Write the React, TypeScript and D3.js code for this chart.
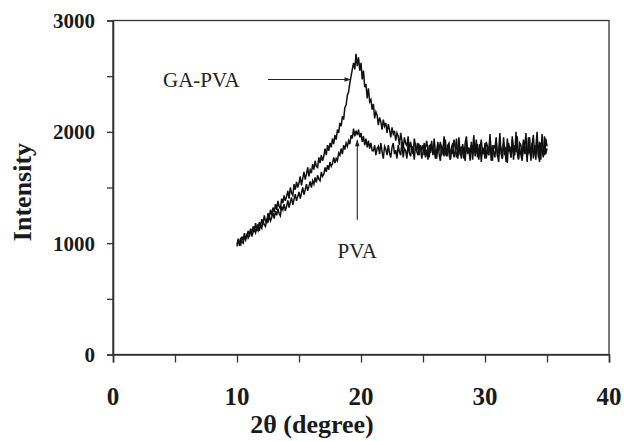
import React, { useEffect, useRef } from "react";
import * as d3 from "d3";

// scan grid: 2θ from 10 to 35 degrees, step 0.1
const scanStart = 10;
const scanStep = 0.1;

// GA-PVA intensity (one row per degree)
const gaPva = [
  970, 1040, 1000, 985, 1060, 1030, 1090, 1040, 1070, 1110,
  1060, 1130, 1095, 1150, 1100, 1180, 1125, 1110, 1190, 1150,
  1215, 1170, 1250, 1200, 1185, 1270, 1235, 1300, 1250, 1320,
  1280, 1350, 1300, 1380, 1330, 1310, 1400, 1360, 1430, 1380,
  1420, 1470, 1400, 1500, 1450, 1430, 1530, 1480, 1550, 1500,
  1540, 1600, 1520, 1580, 1640, 1570, 1620, 1680, 1600, 1660,
  1630, 1710, 1660, 1740, 1690, 1680, 1770, 1720, 1790, 1740,
  1780, 1850, 1790, 1880, 1830, 1900, 1860, 1940, 1890, 1970,
  1930, 2020, 1990, 2080, 2050, 2140, 2110, 2220, 2240, 2330,
  2360, 2440, 2500, 2560, 2620, 2560, 2700, 2590, 2670, 2550,
  2620, 2470, 2550, 2400, 2430, 2300, 2390, 2270, 2290, 2200,
  2250, 2120, 2180, 2150, 2060, 2130, 2090, 2020, 2110, 2050,
  2080, 1990, 2070, 2020, 1950, 2040, 1980, 2010, 1920, 1990,
  1960, 1880, 1990, 1920, 1850, 1950, 1900, 1870, 1960, 1830,
  1910, 1850, 1800, 1940, 1870, 1830, 1900, 1790, 1880, 1840,
  1880, 1790, 1860, 1920, 1830, 1770, 1890, 1855, 1800, 1940,
  1820, 1760, 1870, 1845, 1910, 1790, 1830, 1960, 1810, 1780,
  1880, 1900, 1750, 1840, 1800, 1930, 1860, 1770, 1820, 1950,
  1790, 1870, 1825, 1760, 1900, 1960, 1810, 1850, 1740, 1880,
  1835, 1970, 1780, 1820, 1890, 1750, 1860, 1930, 1800, 1845,
  1760, 1910, 1870, 1790, 1980, 1820, 1740, 1880, 1850, 1950,
  1780, 1830, 1990, 1800, 1760, 1900, 1860, 1730, 1940, 1820,
  1870, 1770, 1960, 1840, 1790, 2000, 1810, 1750, 1900, 1880,
  1760, 1930, 1850, 1990, 1780, 1820, 1950, 1740, 1890, 1970,
  1800, 1860, 2000, 1770, 1910, 1750, 1980, 1830, 1790, 1940,
  1870,
];

// PVA intensity
const pva = [
  990, 1030, 975, 1050, 1010, 1000, 1065, 1030, 1085, 1045,
  1070, 1120, 1060, 1100, 1150, 1095, 1130, 1170, 1110, 1160,
  1135, 1200, 1165, 1150, 1220, 1185, 1250, 1200, 1230, 1275,
  1220, 1290, 1250, 1310, 1265, 1245, 1330, 1300, 1350, 1290,
  1330, 1385, 1320, 1370, 1410, 1345, 1395, 1440, 1380, 1420,
  1460, 1400, 1450, 1500, 1435, 1480, 1530, 1470, 1510, 1555,
  1500, 1560, 1530, 1590, 1545, 1610, 1575, 1560, 1640, 1600,
  1620, 1680, 1640, 1700, 1660, 1730, 1690, 1715, 1770, 1720,
  1760, 1740, 1810, 1790, 1850, 1800, 1880, 1840, 1900, 1870,
  1920, 1890, 1970, 1940, 2030, 1960, 2010, 1970, 2020, 1950,
  1990, 1910, 1960, 1880, 1940, 1860, 1920, 1850, 1900, 1830,
  1830, 1880, 1790, 1850, 1870, 1800, 1900, 1820, 1760, 1870,
  1845, 1790, 1880, 1810, 1770, 1860, 1900, 1800, 1835, 1760,
  1880, 1820, 1790, 1910, 1770, 1850, 1830, 1760, 1890, 1810,
  1780, 1870, 1840, 1750, 1900, 1820, 1790, 1880, 1860, 1760,
  1820, 1900, 1770, 1840, 1750, 1880, 1810, 1920, 1790, 1850,
  1760, 1830, 1910, 1800, 1740, 1870, 1850, 1780, 1930, 1810,
  1790, 1880, 1750, 1860, 1900, 1770, 1820, 1940, 1760, 1850,
  1830, 1760, 1890, 1810, 1740, 1920, 1800, 1860, 1780, 1910,
  1750, 1870, 1820, 1930, 1770, 1840, 1890, 1730, 1860, 1800,
  1900, 1760, 1850, 1790, 1940, 1740, 1880, 1820, 1770, 1920,
  1800, 1730, 1890, 1850, 1760, 1950, 1790, 1860, 1720, 1900,
  1840, 1770, 1930, 1750, 1880, 1820, 1960, 1760, 1850, 1790,
  1740, 1910, 1800, 1870, 1730, 1950, 1820, 1780, 1900, 1760,
  1880, 1750, 1940, 1810, 1730, 1900, 1840, 1770, 1960, 1800,
  1850,
];

const xTicks = [0, 10, 20, 30, 40];
const xMinorTicks = [0, 5, 10, 15, 20, 25, 30, 35, 40];
const yTicks = [0, 1000, 2000, 3000];
const yMinorTicks = [0, 500, 1000, 1500, 2000, 2500, 3000];

// annotation arrows, in data units
const gaLabel = { text: "GA-PVA", tip: [19.2, 2470], tail: [12.5, 2470] };
const pvaLabel = { text: "PVA", tip: [19.7, 1930], tail: [19.7, 1210] };

export default function App() {
  const ref = useRef<SVGSVGElement>(null);

  useEffect(() => {
    const svg = d3.select(ref.current);
    svg.selectAll("*").remove();

    const margin = { top: 20.5, right: 15, bottom: 86.5, left: 113 };
    const width = 624, height = 441;

    const x = d3.scaleLinear().domain([0, 40]).range([margin.left, width - margin.right]);
    const y = d3.scaleLinear().domain([0, 3000]).range([height - margin.bottom, margin.top]);

    const ink = "#1a1a1a";
    const serif = "Liberation Serif, Times New Roman, serif";

    // frame
    svg.append("rect")
      .attr("x", x(0)).attr("y", y(3000))
      .attr("width", x(40) - x(0)).attr("height", y(0) - y(3000))
      .attr("fill", "none").attr("stroke", "#333").attr("stroke-width", 1.3);

    // y axis
    const yAxis = svg.append("g").attr("transform", `translate(${x(0)},0)`)
      .call(d3.axisLeft(y).tickValues(yMinorTicks).tickSize(6).tickFormat(() => ""));
    yAxis.select(".domain").attr("stroke", "#333").attr("stroke-width", 1.6);
    yAxis.selectAll(".tick line").attr("stroke", "#333").attr("stroke-width", 1.3);

    svg.append("g").selectAll("text").data(yTicks).join("text")
      .attr("x", 95).attr("y", d => y(d)).attr("dy", "0.35em")
      .attr("text-anchor", "end")
      .style("font-family", serif).style("font-weight", "bold").style("font-size", "21px")
      .attr("fill", ink).text(d => d);

    // x axis
    const xAxis = svg.append("g").attr("transform", `translate(0,${y(0)})`)
      .call(d3.axisBottom(x).tickValues(xMinorTicks).tickSize(8).tickFormat(() => ""));
    xAxis.select(".domain").attr("stroke", "#333").attr("stroke-width", 1.6);
    xAxis.selectAll(".tick line").attr("stroke", "#333").attr("stroke-width", 1.3);

    svg.append("g").selectAll("text").data(xTicks).join("text")
      .attr("x", d => x(d)).attr("y", 405)
      .attr("text-anchor", "middle")
      .style("font-family", serif).style("font-weight", "bold").style("font-size", "25px")
      .attr("fill", ink).text(d => d);

    // axis titles
    svg.append("text")
      .attr("x", 312).attr("y", 433).attr("text-anchor", "middle")
      .style("font-family", serif).style("font-weight", "bold").style("font-size", "26px")
      .attr("fill", ink).text("2θ (degree)");

    svg.append("text")
      .attr("transform", "translate(31,192) rotate(-90)")
      .attr("text-anchor", "middle")
      .style("font-family", serif).style("font-weight", "bold").style("font-size", "26px")
      .attr("fill", ink).text("Intensity");

    // traces
    const line = d3.line<number>()
      .x((_, i) => x(scanStart + i * scanStep))
      .y(d => y(d));

    [pva, gaPva].forEach(series => {
      svg.append("path").datum(series)
        .attr("d", line)
        .attr("fill", "none").attr("stroke", "#111").attr("stroke-width", 1.5)
        .attr("stroke-linejoin", "miter");
    });

    // arrows
    const defs = svg.append("defs");
    defs.append("marker")
      .attr("id", "head").attr("viewBox", "0 0 10 10")
      .attr("refX", 10).attr("refY", 5)
      .attr("markerWidth", 8).attr("markerHeight", 6)
      .attr("orient", "auto")
      .append("path").attr("d", "M0,1.5 L10,5 L0,8.5 z").attr("fill", "#222");

    [gaLabel, pvaLabel].forEach(a => {
      svg.append("line")
        .attr("x1", x(a.tail[0])).attr("y1", y(a.tail[1]))
        .attr("x2", x(a.tip[0])).attr("y2", y(a.tip[1]))
        .attr("stroke", "#222").attr("stroke-width", 1.1)
        .attr("marker-end", "url(#head)");
    });

    svg.append("text")
      .attr("x", 163).attr("y", y(gaLabel.tail[1])).attr("dy", "0.35em")
      .style("font-family", serif).style("font-size", "21px").attr("fill", "#222")
      .text(gaLabel.text);

    svg.append("text")
      .attr("x", x(pvaLabel.tail[0])).attr("y", 258).attr("text-anchor", "middle")
      .style("font-family", serif).style("font-size", "21px").attr("fill", "#222")
      .text(pvaLabel.text);
  }, []);

  return (
    <svg ref={ref} width={624} height={441}
      style={{ position: "absolute", left: 0, top: 0, background: "#fff" }} />
  );
}
